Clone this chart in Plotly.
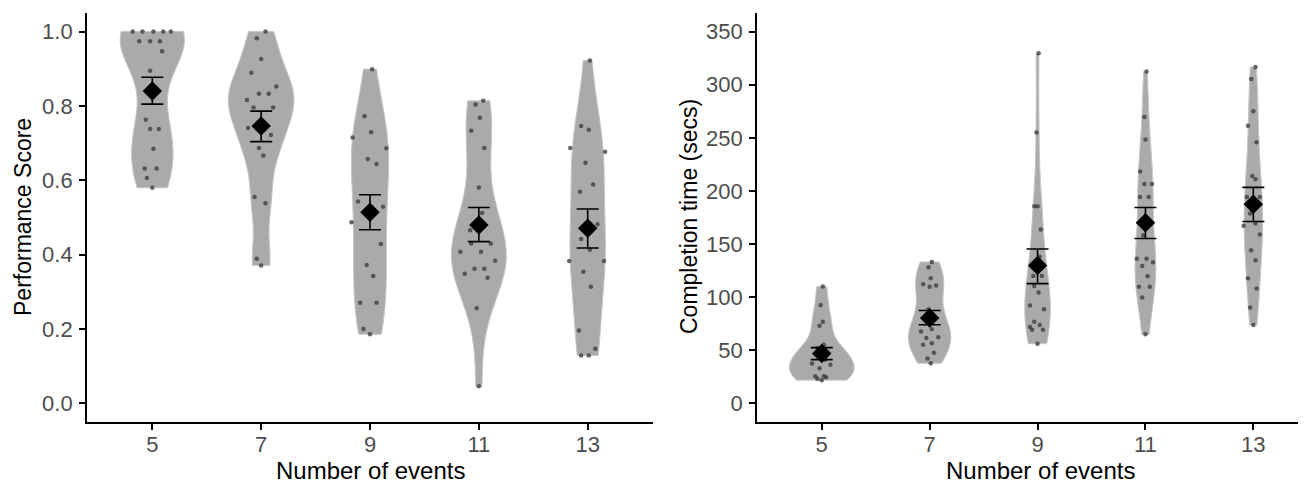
import numpy as np
import plotly.graph_objects as go

# ---------------- data ----------------
categories = ["5", "7", "9", "11", "13"]

# Left panel: Performance Score, one list per number of events
perf_5 = [1.0, 1.0, 1.0, 1.0, 1.0, 0.974, 0.974, 0.974, 0.947, 0.895, 0.763,
          0.738, 0.738, 0.685, 0.632, 0.632, 0.606, 0.580]
perf_7 = [1.0, 0.982, 0.926, 0.889, 0.852, 0.833, 0.833, 0.816, 0.796, 0.796,
          0.741, 0.722, 0.687, 0.667, 0.555, 0.538, 0.389, 0.371]
perf_9 = [0.899, 0.772, 0.729, 0.715, 0.686, 0.657, 0.644, 0.543, 0.529, 0.487,
          0.429, 0.372, 0.343, 0.271, 0.271, 0.200, 0.186]
perf_11 = [0.814, 0.804, 0.768, 0.733, 0.687, 0.581, 0.512, 0.466, 0.430, 0.430,
           0.408, 0.408, 0.384, 0.362, 0.362, 0.349, 0.338, 0.256, 0.046]
perf_13 = [0.922, 0.746, 0.736, 0.687, 0.677, 0.647, 0.589, 0.569, 0.482, 0.442,
           0.413, 0.383, 0.383, 0.354, 0.314, 0.196, 0.147, 0.129, 0.129]

# horizontal jitter of each point (category units)
perf_5_jit = [-0.18, -0.09, 0.01, 0.10, 0.17, -0.12, -0.02, 0.07, 0.09, -0.02, -0.06,
              -0.02, 0.06, 0.01, -0.07, 0.04, -0.05, 0.0]
perf_7_jit = [0.04, -0.04, 0.0, -0.09, 0.14, -0.02, 0.07, -0.13, -0.07, 0.11,
              -0.12, 0.09, -0.02, 0.02, -0.06, 0.04, -0.04, 0.0]
perf_9_jit = [0.02, -0.05, 0.01, -0.16, 0.15, -0.02, 0.06, -0.11, 0.12, -0.17,
              0.10, -0.03, 0.03, -0.09, 0.06, -0.06, 0.0]
perf_11_jit = [0.04, -0.03, 0.01, -0.07, 0.05, 0.0, 0.03, -0.08, -0.07, 0.11,
               -0.17, 0.02, 0.15, -0.04, 0.05, -0.13, 0.08, -0.02, 0.0]
perf_13_jit = [0.02, -0.06, 0.01, -0.16, 0.16, -0.02, 0.05, -0.07, 0.09, -0.06,
               0.02, -0.17, 0.15, -0.04, 0.03, -0.08, 0.07, -0.06, 0.01]

perf_mean = [0.840, 0.746, 0.514, 0.480, 0.471]
perf_upper = [0.877, 0.786, 0.561, 0.527, 0.523]
perf_lower = [0.805, 0.704, 0.467, 0.435, 0.418]

# Right panel: Completion time (secs)
time_5 = [110.0, 92.5, 76.9, 73.1, 55.3, 52.0, 48.0, 44.0, 41.0, 37.5, 36.3,
          33.1, 25.6, 25.6, 24.7, 23.2, 21.9]
time_7 = [133.1, 128.1, 117.8, 112.2, 111.0, 109.7, 88.7, 84.0, 77.0, 69.7,
          67.8, 62.2, 61.6, 56.6, 55.3, 47.8, 42.2, 37.8]
time_9 = [329.7, 255.0, 185.6, 185.6, 163.8, 138.0, 120.0, 120.0, 110.6, 104.4,
          92.2, 88.7, 76.9, 73.8, 71.9, 69.4, 69.4, 56.2]
time_11 = [312.5, 269.7, 248.4, 218.4, 206.5, 206.5, 194.4, 194.4, 158.4, 136.2,
           136.2, 132.8, 129.4, 119.7, 109.7, 109.7, 99.7, 65.0]
time_13 = [316.6, 305.3, 275.0, 261.3, 245.9, 214.0, 210.9, 194.4, 194.4, 178.8,
           169.4, 167.2, 159.1, 144.1, 134.7, 117.8, 108.1, 90.3, 73.8]

time_5_jit = [0.01, -0.01, 0.01, -0.02, 0.02, -0.04, 0.05, -0.02, 0.03, -0.09, 0.08,
              -0.02, -0.06, 0.02, 0.04, -0.04, 0.0]
time_7_jit = [0.02, -0.01, 0.01, -0.06, 0.06, 0.0, -0.01, 0.03, -0.03, 0.02,
              -0.08, 0.08, -0.03, 0.02, -0.06, 0.04, -0.02, 0.01]
time_9_jit = [0.01, -0.01, -0.03, 0.0, 0.03, 0.02, -0.04, 0.04, -0.03, 0.01,
              -0.07, 0.06, -0.03, 0.02, -0.07, -0.05, 0.05, 0.0]
time_11_jit = [0.01, -0.01, 0.0, -0.05, -0.01, 0.06, -0.05, 0.03, -0.02, -0.08,
               0.01, 0.07, -0.03, 0.02, -0.06, 0.04, -0.03, 0.0]
time_13_jit = [0.02, -0.02, 0.0, -0.05, 0.03, -0.01, 0.02, -0.06, 0.06, -0.03,
               0.02, -0.09, 0.06, -0.02, 0.02, -0.05, 0.03, -0.03, 0.0]

time_mean = [46.9, 80.3, 129.7, 170.0, 187.5]
time_upper = [52.5, 87.5, 145.3, 184.4, 203.4]
time_lower = [41.2, 74.0, 112.8, 155.3, 171.3]

perf_groups = [perf_5, perf_7, perf_9, perf_11, perf_13]
perf_jits = [perf_5_jit, perf_7_jit, perf_9_jit, perf_11_jit, perf_13_jit]
time_groups = [time_5, time_7, time_9, time_11, time_13]
time_jits = [time_5_jit, time_7_jit, time_9_jit, time_11_jit, time_13_jit]

# ---------------- figure ----------------
# the page body has an 8px margin, so the figure starts at (8, 8) in the window
OFF = 8
W, H = 1306 - OFF, 483 - OFF
ML, MR, MT = 87 - OFF, 0, 13 - OFF
MB = H - (422 - OFF)
PW, PH = W - ML - MR, H - MT - MB


def px_x(p):
    """window pixel -> paper x"""
    return (p - OFF - ML) / PW


def px_y(p):
    """window pixel -> paper y"""
    return (H - MB - (p - OFF)) / PH


def bw_nrd0(v):
    v = np.asarray(v, dtype=float)
    sd = v.std(ddof=1)
    q75, q25 = np.percentile(v, [75, 25])
    lo = min(sd, (q75 - q25) / 1.34)
    if lo <= 0:
        lo = sd if sd > 0 else 1.0
    return 0.9 * lo * len(v) ** (-0.2)


VIOLIN_FILL = "#aaaaaa"
VIOLIN_LINE = "#c6c6c6"
POINT_COLOR = "rgba(60,60,60,0.78)"

fig = go.Figure()

panels = [
    (perf_groups, perf_jits, perf_mean, perf_upper, perf_lower, "x", "y", "perf"),
    (time_groups, time_jits, time_mean, time_upper, time_lower, "x2", "y2", "time"),
]

for groups, jits, means, ups, lows, xa, ya, sg in panels:
    pos = list(range(1, len(categories) + 1))
    for p, vals in zip(pos, groups):
        # violins in one scalegroup share the max density -> area scaling
        fig.add_trace(go.Violin(
            x0=p, y=vals, xaxis=xa, yaxis=ya,
            bandwidth=bw_nrd0(vals), spanmode="hard",
            scalegroup=sg, scalemode="width",
            fillcolor=VIOLIN_FILL, line=dict(color=VIOLIN_LINE, width=1),
            opacity=1, points=False, box_visible=False, meanline_visible=False,
            showlegend=False, hoverinfo="skip",
        ))
    for p, vals, jit in zip(pos, groups, jits):
        fig.add_trace(go.Scatter(
            x=[p + j for j in jit], y=vals, xaxis=xa, yaxis=ya,
            mode="markers", marker=dict(size=4.5, color=POINT_COLOR),
            showlegend=False, hoverinfo="skip",
        ))
    fig.add_trace(go.Scatter(
        x=pos, y=means, xaxis=xa, yaxis=ya, mode="markers",
        marker=dict(symbol="diamond", size=15, color="black"),
        error_y=dict(type="data", symmetric=False,
                     array=[u - m for u, m in zip(ups, means)],
                     arrayminus=[m - l for m, l in zip(means, lows)],
                     color="black", thickness=1.6, width=11),
        showlegend=False, hoverinfo="skip",
    ))

tick_font = dict(family="Liberation Sans, Arial, sans-serif", size=22, color="#4d4d4d")
title_font = dict(family="Liberation Sans, Arial, sans-serif", size=24, color="black")

axis_common = dict(showline=True, linecolor="black", linewidth=1.8, ticks="outside",
                   ticklen=6, tickwidth=1.6, tickcolor="black", showgrid=False,
                   zeroline=False, tickfont=tick_font, automargin=False)

fig.update_layout(
    width=W, height=H,
    margin=dict(l=ML, r=MR, t=MT, b=MB, pad=0, autoexpand=False),
    plot_bgcolor="white", paper_bgcolor="white",
    violinmode="overlay", violingap=0.4, violingroupgap=0,
    xaxis=dict(domain=[0, px_x(653)], range=[0.4, 5.6], tickvals=[1, 2, 3, 4, 5],
               ticktext=categories, anchor="y", ticklabelstandoff=-4, **axis_common),
    yaxis=dict(domain=[0, 1], range=[-0.05, 1.05], tickvals=[0, 0.2, 0.4, 0.6, 0.8, 1.0],
               tickformat=".1f", anchor="x", ticklabelstandoff=2, **axis_common),
    xaxis2=dict(domain=[px_x(757), 1], range=[0.4, 5.488], tickvals=[1, 2, 3, 4, 5],
                ticktext=categories, anchor="y2", ticklabelstandoff=-4, **axis_common),
    yaxis2=dict(domain=[0, 1], range=[-17.5, 367.5], tickvals=list(range(0, 351, 50)),
                anchor="x2", ticklabelstandoff=2, **axis_common),
)

annotations = [
    dict(text="Performance Score", x=px_x(23), y=px_y(217), textangle=-90, size=23),
    dict(text="Completion time (secs)", x=px_x(689), y=px_y(217), textangle=-90, size=23),
    dict(text="Number of events", x=px_x(370), y=px_y(470), size=24),
    dict(text="Number of events", x=px_x(1040), y=px_y(470), size=24),
]
for a in annotations:
    sz = a.pop("size")
    fig.add_annotation(xref="paper", yref="paper", showarrow=False,
                       xanchor="center", yanchor="middle",
                       font=dict(title_font, size=sz), **a)

fig.write_html("out.html")
